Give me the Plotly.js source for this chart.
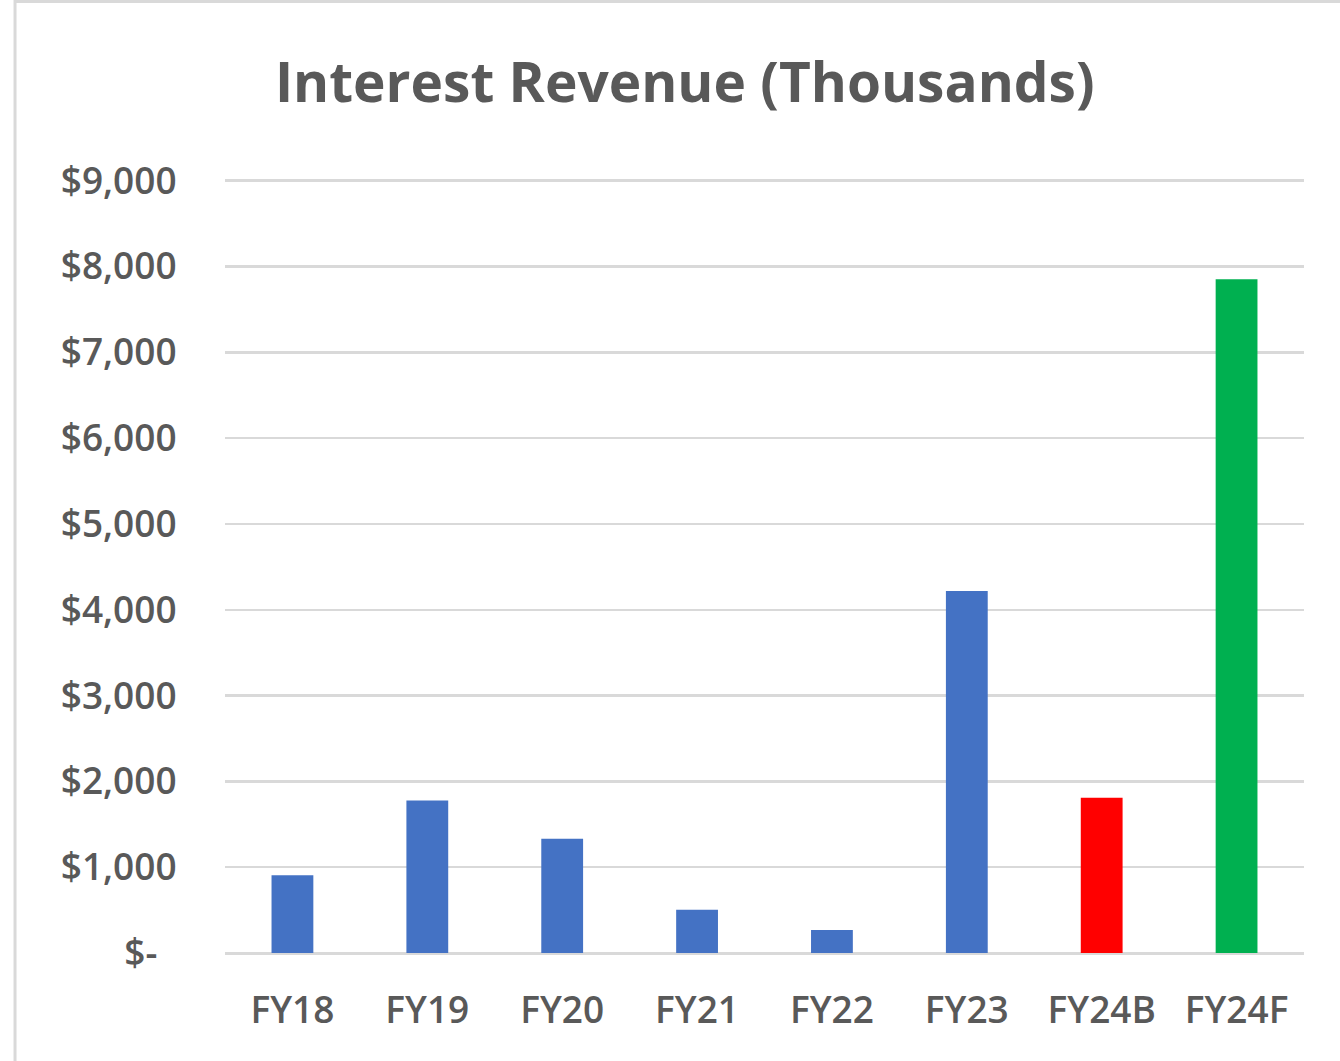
<!DOCTYPE html>
<html>
<head>
<meta charset="utf-8">
<script src="https://cdn.plot.ly/plotly-3.0.1.min.js"></script>
<style>
  html, body { margin: 0; padding: 0; background: #ffffff; }
  #chart { width: 1340px; height: 1061px; }
</style>
</head>
<body>
<div id="chart"></div>
<script>
// ---- Data ----
const categories = ["FY18", "FY19", "FY20", "FY21", "FY22", "FY23", "FY24B", "FY24F"];
const revenue = [905, 1778, 1330, 505, 268, 4220, 1808, 7852];
const barColors = ["#4472C4", "#4472C4", "#4472C4", "#4472C4", "#4472C4", "#4472C4", "#FF0000", "#00B050"];
const yTickValues = [0, 1000, 2000, 3000, 4000, 5000, 6000, 7000, 8000, 9000];
const yTickLabels = ["$-\u00a0\u00a0", "$1,000", "$2,000", "$3,000", "$4,000", "$5,000", "$6,000", "$7,000", "$8,000", "$9,000"];

const textGray = "#595959";
const gridGray = "#d9d9d9";
const fontFam = "'Open Sans', 'Noto Sans', sans-serif";

const trace = {
  type: "bar",
  x: categories,
  y: revenue,
  marker: { color: barColors, line: { width: 0 } },
  hoverinfo: "x+y"
};

const layout = {
  width: 1340,
  height: 1061,
  paper_bgcolor: "#ffffff",
  plot_bgcolor: "#ffffff",
  margin: { l: 225, r: 36, t: 178.8, b: 107.7, pad: 0 },
  bargap: 0.69,
  showlegend: false,
  title: {
    text: "Interest Revenue (Thousands)",
    font: { family: fontFam, size: 55, color: textGray, weight: 700 },
    xref: "container", x: 0.511, xanchor: "center",
    yref: "container", y: 0.922, yanchor: "middle"
  },
  xaxis: {
    type: "category",
    showgrid: false,
    showline: false,
    zeroline: false,
    ticks: "outside",
    ticklen: 25,
    tickcolor: "rgba(0,0,0,0)",
    tickfont: { family: fontFam, size: 37, color: textGray, weight: 600 }
  },
  yaxis: {
    range: [0, 9020],
    tickvals: yTickValues,
    ticktext: yTickLabels,
    showgrid: true,
    gridcolor: gridGray,
    gridwidth: 2.5,
    zeroline: true,
    zerolinecolor: gridGray,
    zerolinewidth: 3,
    showline: false,
    ticks: "outside",
    ticklen: 40,
    tickcolor: "rgba(0,0,0,0)",
    tickfont: { family: fontFam, size: 37, color: textGray, weight: 600 },
    fixedrange: true
  },
  shapes: [{
    type: "rect",
    xref: "paper", yref: "paper",
    x0: -0.1946, x1: 1.038, y0: -0.1445, y1: 1.2294,
    line: { color: gridGray, width: 3 },
    fillcolor: "rgba(0,0,0,0)",
    layer: "below"
  }]
};

Plotly.newPlot("chart", [trace], layout, { displayModeBar: false, staticPlot: true });
</script>
</body>
</html>
